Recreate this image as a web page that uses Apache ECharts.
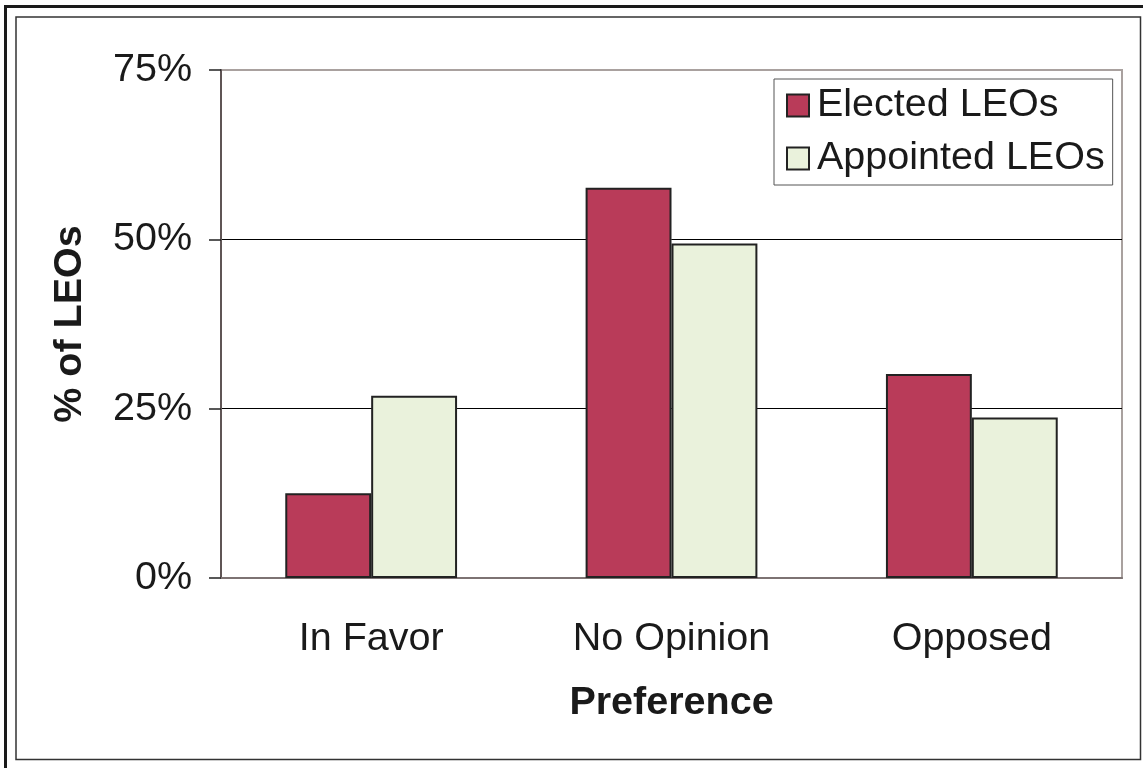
<!DOCTYPE html>
<html>
<head>
<meta charset="utf-8">
<script src="https://cdn.jsdelivr.net/npm/echarts@6/dist/echarts.min.js"></script>
<style>
  html, body { margin: 0; padding: 0; background: #fff; }
  #chart { width: 1143px; height: 768px; }
</style>
</head>
<body>
<div id="chart"></div>
<script>
const categories = ['In Favor', 'No Opinion', 'Opposed'];
const electedValues = [12.5, 57.6, 30.1];
const appointedValues = [26.9, 49.4, 23.7];
const seriesNames = ['Elected LEOs', 'Appointed LEOs'];
const yAxisTitle = '% of LEOs';
const xAxisTitle = 'Preference';

const FONT = '"Liberation Sans", Arial, sans-serif';
const FS = 39.5;
const chart = echarts.init(document.getElementById('chart'), null, { renderer: 'canvas' });

const option = {
  animation: false,
  backgroundColor: '#fff',
  textStyle: { fontFamily: FONT },
  graphic: [
    { type: 'rect', shape: { x: 16, y: 17, width: 1124.5, height: 742.5 }, style: { fill: null, stroke: '#333', lineWidth: 1.5 }, z: -1 },
    { type: 'line', shape: { x1: 4, y1: 6.5, x2: 1143, y2: 6.5 }, style: { stroke: '#1a1a1a', lineWidth: 3 } },
    { type: 'line', shape: { x1: 5.5, y1: 5, x2: 5.5, y2: 768 }, style: { stroke: '#1a1a1a', lineWidth: 3 } }
  ],
  grid: {
    left: 221, right: 21, top: 70, bottom: 190,
    show: true, borderColor: '#a9a19f', borderWidth: 2, backgroundColor: 'transparent'
  },
  legend: {
    orient: 'vertical',
    left: 774, top: 79,
    padding: [4, 8, 4, 12],
    backgroundColor: '#fff',
    borderColor: '#555', borderWidth: 1, borderRadius: 0,
    itemWidth: 22, itemHeight: 22, itemGap: 8,
    icon: 'rect',
    textStyle: { fontFamily: FONT, fontSize: FS, color: '#1a1a1a', lineHeight: 45, padding: [0, 0, 0, 3] },
    data: seriesNames
  },
  xAxis: {
    type: 'category',
    data: categories,
    axisLine: { lineStyle: { color: '#7d7373', width: 2 } },
    axisTick: { length: 13, lineStyle: { color: '#222', width: 1.5 } },
    axisLabel: { fontFamily: FONT, fontSize: FS, color: '#1a1a1a', margin: 41 },
    name: xAxisTitle,
    nameLocation: 'middle',
    nameGap: 105,
    nameTextStyle: { fontFamily: FONT, fontSize: FS, fontWeight: 'bold', color: '#1a1a1a' },
    splitLine: { show: false }
  },
  yAxis: {
    type: 'value',
    min: 0, max: 75, interval: 25,
    axisLine: { show: true, lineStyle: { color: '#5f5555', width: 2 } },
    axisTick: { show: true, length: 12, lineStyle: { color: '#222', width: 1.5 } },
    axisLabel: { fontFamily: FONT, fontSize: FS, color: '#1a1a1a', margin: 29, formatter: '{value}%' },
    splitLine: { show: true, lineStyle: { color: ['#000', '#000', '#000', '#a9a19f'], width: 1 } },
    name: yAxisTitle,
    nameLocation: 'middle',
    nameGap: 131,
    nameRotate: 90,
    nameTextStyle: { fontFamily: FONT, fontSize: FS, fontWeight: 'bold', color: '#1a1a1a' }
  },
  series: [
    {
      name: seriesNames[0], type: 'bar', data: electedValues,
      barWidth: '28.6%', barGap: '0%',
      itemStyle: { color: '#b93b59', borderColor: '#222', borderWidth: 2 }
    },
    {
      name: seriesNames[1], type: 'bar', data: appointedValues,
      barWidth: '28.6%', barGap: '0%',
      itemStyle: { color: '#eaf2dc', borderColor: '#222', borderWidth: 2 }
    }
  ]
};
chart.setOption(option);
</script>
</body>
</html>
